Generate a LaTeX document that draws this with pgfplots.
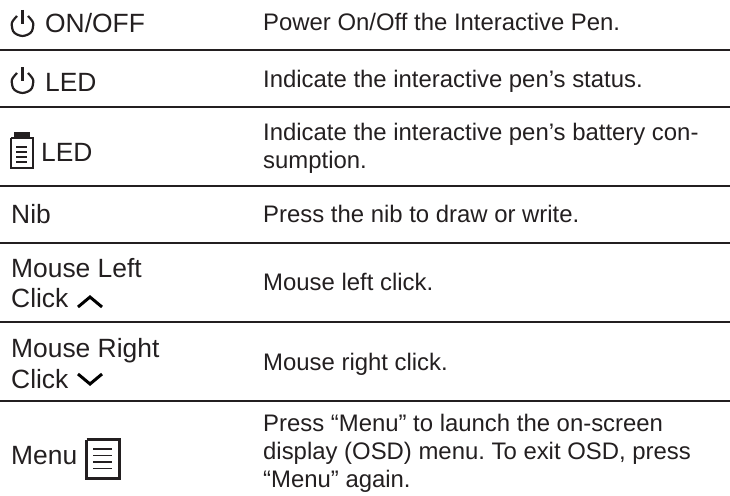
\documentclass[border=0pt]{standalone}
\usepackage{pgfplots}
\pgfplotsset{compat=1.18}
\usepackage{fontspec}
\setmainfont{Liberation Sans}
\frenchspacing
\definecolor{ink}{HTML}{231F20}
\newcommand{\LT}[3]{\node[anchor=base west,inner sep=0pt,text=ink,font=\fontsize{26.4}{28}\selectfont] at (axis cs:#1,#2) {#3};}
\newcommand{\RT}[2]{\node[anchor=base west,inner sep=0pt,text=ink,font=\fontsize{23.9}{28}\selectfont] at (axis cs:263,#1) {#2};}
\begin{document}
\begin{tikzpicture}
\useasboundingbox (0,0) rectangle (730pt,495pt);
\begin{axis}[width=730pt,height=495pt,scale only axis,hide axis,xmin=0,xmax=730,ymin=0,ymax=495,y dir=reverse,clip=false]
% table rules
\addplot[ink,line width=1.3pt] coordinates {(0,50) (730,50)};
\addplot[ink,line width=1.3pt] coordinates {(0,107) (730,107)};
\addplot[ink,line width=1.3pt] coordinates {(0,186) (730,186)};
\addplot[ink,line width=1.3pt] coordinates {(0,243) (730,243)};
\addplot[ink,line width=1.3pt] coordinates {(0,322) (730,322)};
\addplot[ink,line width=1.3pt] coordinates {(0,401) (730,401)};
% left column
\LT{45}{33}{ON/OFF}
\LT{45}{91}{LED}
\LT{41}{161}{LED}
\LT{11}{223}{Nib}
\LT{11}{277}{Mouse Left}
\LT{11}{307}{Click}
\LT{11}{357}{Mouse Right}
\LT{11}{388}{Click}
\LT{11}{464}{Menu}
% right column
\RT{31}{Power On/Off the Interactive Pen.}
\RT{87.5}{Indicate the interactive pen’s status.}
\RT{140}{Indicate the interactive pen’s battery con-}
\RT{168}{sumption.}
\RT{222.5}{Press the nib to draw or write.}
\RT{290}{Mouse left click.}
\RT{370.5}{Mouse right click.}
\RT{431}{Press “Menu” to launch the on-screen}
\RT{459}{display (OSD) menu. To exit OSD, press}
\RT{487}{“Menu” again.}
% power icons
\addplot[ink,line width=2.2pt] coordinates {(22.5,10) (22.5,24)};
\addplot[ink,line width=2.2pt,smooth] coordinates {(28,16) (33.1,22.7) (32,31) (28,34.5) (22.5,36) (17,34.5) (13,31) (11.9,22.7) (17,16)};
\addplot[ink,line width=2.2pt] coordinates {(22.5,67) (22.5,81)};
\addplot[ink,line width=2.2pt,smooth] coordinates {(28,73) (33.1,79.7) (32,88) (28,91.5) (22.5,93) (17,91.5) (13,88) (11.9,79.7) (17,73)};
% battery icon
\addplot[ink,fill=ink,line width=0pt] coordinates {(14,132) (29,132) (29,138) (14,138) (14,132)};
\addplot[ink,line width=2pt] coordinates {(11,138) (33,138) (33,167.5) (11,167.5) (11,138)};
\addplot[ink,line width=1.2pt] coordinates {(16,147) (27,147)};
\addplot[ink,line width=1.2pt] coordinates {(16,152) (27,152)};
\addplot[ink,line width=1.2pt] coordinates {(16,157) (27,157)};
\addplot[ink,line width=1.2pt] coordinates {(16,162) (27,162)};
% chevrons
\addplot[black,line width=3pt] coordinates {(78,307) (90,297) (102,307)};
\addplot[black,line width=3pt] coordinates {(78,374) (90,384) (102,374)};
% menu icon
\addplot[ink,line width=3.4pt] coordinates {(86.5,439.5) (119.5,439.5) (119.5,478.5) (86.5,478.5) (86.5,439.5)};
\addplot[ink,line width=1.2pt] coordinates {(93,449) (112,449)};
\addplot[ink,line width=1.2pt] coordinates {(93,455.5) (112,455.5)};
\addplot[ink,line width=1.2pt] coordinates {(93,462) (112,462)};
\addplot[ink,line width=1.2pt] coordinates {(93,468.5) (112,468.5)};
\end{axis}
\end{tikzpicture}
\end{document}
